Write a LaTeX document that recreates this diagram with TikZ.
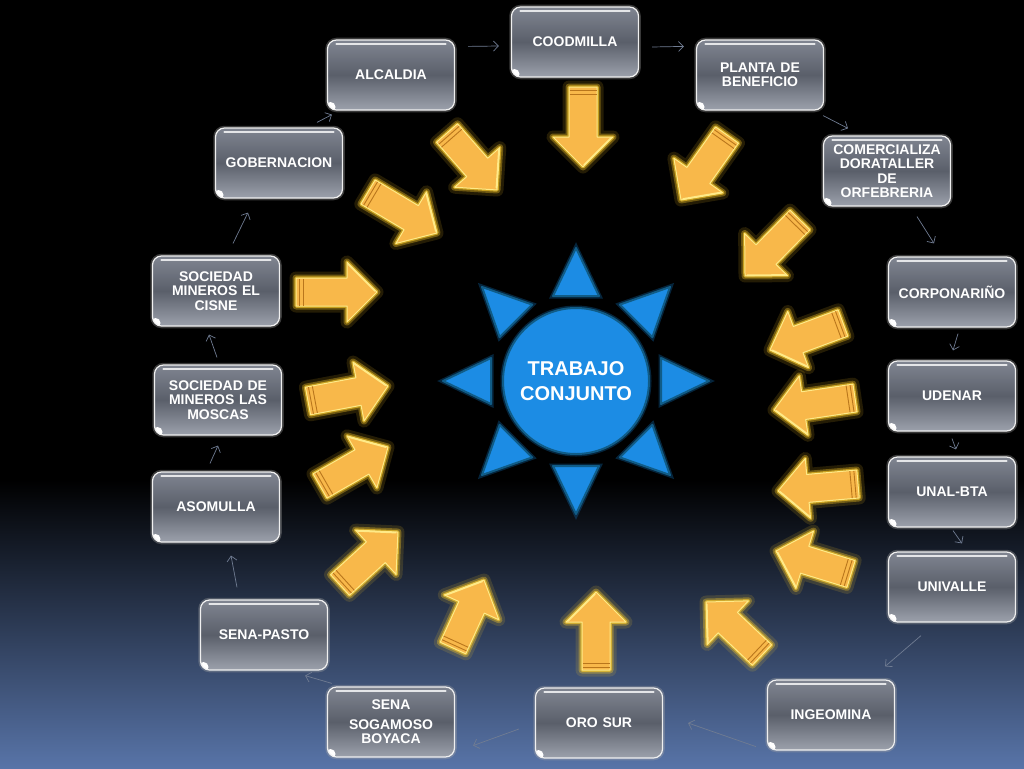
\documentclass[tikz,border=0pt]{standalone}
\usepackage{fontspec}
\setmainfont{Liberation Sans}
\usetikzlibrary{calc,arrows.meta}
\definecolor{boxtop}{RGB}{128,133,145}
\definecolor{boxmid}{RGB}{90,95,106}
\definecolor{boxbot}{RGB}{156,161,172}
\definecolor{conncol}{RGB}{112,124,146}
\definecolor{arrfill}{RGB}{248,184,74}
\definecolor{arredge}{RGB}{255,234,135}
\definecolor{arrglow}{RGB}{255,205,40}
\definecolor{arrstripe}{RGB}{185,118,28}
\definecolor{sunfill}{RGB}{28,140,228}
\definecolor{sunedge}{RGB}{16,92,135}
\definecolor{bgbot}{RGB}{88,116,168}
\tikzset{
 box/.style={rounded corners=9pt, minimum width=127pt, minimum height=70pt, inner sep=1pt,
   text width=125pt, align=center, text=white,
   font=\bfseries\fontsize{14}{14.5}\selectfont,
   top color=boxtop, bottom color=boxbot, middle color=boxmid,
   draw=white!88!gray, line width=1.2pt,
   preaction={draw=gray!70, line width=4.5pt, opacity=0.35},
   path picture={
     \draw[white, line width=2.4pt, line cap=round, opacity=0.8]
       ([xshift=9pt,yshift=-4pt]path picture bounding box.north west) --
       ([xshift=-9pt,yshift=-4pt]path picture bounding box.north east);
     \fill[white] ([xshift=3pt,yshift=3pt]path picture bounding box.south west) circle (5pt);}},
 conn/.style={draw=conncol, line width=0.7pt, -{Straight Barb[length=5pt,width=10pt]}},
 sunpart/.style={fill=sunfill, draw=sunedge, line width=2pt, line join=round},
}
\newcommand\yarrow[4]{%
 \pgfmathsetmacro\yaang{atan2((#2)-(#4),(#3)-(#1))}%
 \pgfmathsetmacro\yalen{veclen((#3)-(#1),(#4)-(#2))}%
 \begin{scope}[shift={(#1,-#2)}, rotate=\yaang]
  \draw[arrglow, line width=13pt, opacity=0.14, line join=round]
   (0,-14) -- (\yalen-30,-14) -- (\yalen-30,-30) -- (\yalen,0) -- (\yalen-30,30) -- (\yalen-30,14) -- (0,14) -- cycle;
  \draw[arrglow, line width=7pt, opacity=0.35, line join=round]
   (0,-14) -- (\yalen-30,-14) -- (\yalen-30,-30) -- (\yalen,0) -- (\yalen-30,30) -- (\yalen-30,14) -- (0,14) -- cycle;
  \draw[arrglow, line width=3.5pt, opacity=0.6, line join=round]
   (0,-14) -- (\yalen-30,-14) -- (\yalen-30,-30) -- (\yalen,0) -- (\yalen-30,30) -- (\yalen-30,14) -- (0,14) -- cycle;
  \filldraw[fill=arrfill, draw=arredge, line width=1pt, line join=round]
   (0,-14) -- (\yalen-30,-14) -- (\yalen-30,-30) -- (\yalen,0) -- (\yalen-30,30) -- (\yalen-30,14) -- (0,14) -- cycle;
  \draw[arredge, line width=1.6pt, line cap=round] (\yalen-29,28) -- (\yalen-2,1);
  \draw[arrstripe, line width=0.9pt] (3,-13.5) -- (3,13.5) (7,-13.5) -- (7,13.5);
 \end{scope}}
\begin{document}
\begin{tikzpicture}[x=1pt,y=1pt]
\useasboundingbox (0,0) rectangle (1024,-768);
\fill[black] (0,0) rectangle (1024,-480);
\shade[top color=black, bottom color=bgbot] (0,-480) rectangle (1024,-768);

% boxes
\node[box] (cood) at (575,-42) {COODMILLA};
\node[box] (alc)  at (391,-75) {ALCALDIA};
\node[box] (plan) at (760,-75) {PLANTA DE\\BENEFICIO};
\node[box] (com)  at (887,-171) {COMERCIALIZA\\DORATALLER\\DE\\ORFEBRERIA};
\node[box] (corp) at (952,-292) {CORPONARIÑO};
\node[box] (ude)  at (952,-396) {UDENAR};
\node[box] (unal) at (952,-492) {UNAL-BTA};
\node[box] (univ) at (952,-587) {UNIVALLE};
\node[box] (ing)  at (831,-715) {INGEOMINA};
\node[box] (oro)  at (599,-723) {ORO SUR};
\node[box] (sog)  at (391,-722) {SENA\\[5pt]SOGAMOSO\\BOYACA};
\node[box] (pas)  at (264,-635) {SENA-PASTO};
\node[box] (aso)  at (216,-507) {ASOMULLA};
\node[box] (mos)  at (218,-400) {SOCIEDAD DE\\MINEROS LAS\\MOSCAS};
\node[box] (cis)  at (216,-291) {SOCIEDAD\\MINEROS EL\\CISNE};
\node[box] (gob)  at (279,-163) {GOBERNACION};

% connectors
\draw[conn] ($(gob.north)+(38,5)$) -- ($(alc.south west)+(5,-4)$);
\draw[conn] ($(alc.north east)+(13,-7)$) -- ($(cood.west)+(-12,-4)$);
\draw[conn] ($(cood.east)+(13,-5)$) -- ($(plan.north west)+(-12,-7)$);
\draw[conn] ($(plan.south east)+(-1,-5)$) -- ($(com.north)+(-39,7)$);
\draw[conn] ($(com.south)+(30,-10)$) -- ($(corp.north)+(-18,13)$);
\draw[conn] ($(corp.south)+(6,-6)$) -- ($(ude.north)+(1,10)$);
\draw[conn] ($(ude.south)+(0,-7)$) -- ($(unal.north)+(4,7)$);
\draw[conn] ($(unal.south)+(1,-3)$) -- ($(univ.north)+(10,8)$);
\draw[conn] ($(univ.south)+(-31,-13)$) -- ($(ing.north east)+(-10,13)$);
\draw[conn] ($(ing.south west)+(-11,4)$) -- ($(oro.east)+(25,0)$);
\draw[conn] ($(oro.west)+(-16,-6)$) -- ($(sog.south east)+(18,12)$);
\draw[conn] ($(sog.north west)+(5,3)$) -- ($(pas.south east)+(-23,-5)$);
\draw[conn] ($(pas.north)+(-27,12)$) -- ($(aso.south)+(15,-13)$);
\draw[conn] ($(aso.north)+(-6,8)$) -- ($(mos.south)+(0,-10)$);
\draw[conn] ($(mos.north)+(-1,7)$) -- ($(cis.south)+(-7,-8)$);
\draw[conn] ($(cis.north)+(17,12)$) -- ($(gob.south)+(-31,-14)$);

% yellow block arrows (tail x,y ; tip x,y in image coordinates)
\yarrow{583}{87}{583}{167}
\yarrow{447}{133}{497}{190}
\yarrow{727}{135}{681}{200}
\yarrow{800}{220}{745}{276}
\yarrow{843}{323}{770}{350}
\yarrow{855}{398}{774}{410}
\yarrow{858}{484}{778}{491}
\yarrow{851}{574}{776}{551}
\yarrow{762}{655}{706}{602}
\yarrow{596}{670}{596}{592}
\yarrow{453}{648}{484}{580}
\yarrow{340}{585}{398}{532}
\yarrow{320}{486}{388}{447}
\yarrow{308}{401}{388}{386}
\yarrow{296}{292}{377}{292}
\yarrow{368}{192}{437}{233}

% sun
\node[circle, minimum size=146pt, sunpart, preaction={draw=cyan!60!blue, line width=5pt, opacity=0.3},
  text=white, font=\bfseries\fontsize{20}{25}\selectfont, align=center] (sun) at (576,-381) {TRABAJO\\CONJUNTO};
\foreach \a in {0,45,...,315}{
  \draw[sunpart, preaction={draw=cyan!60!blue, line width=5pt, opacity=0.3}]
    ($(sun.center)+(\a:133)$) -- ($(sun.center)+(\a:85)+(\a+90:23)$) -- ($(sun.center)+(\a:85)+(\a-90:23)$) -- cycle;
}
\end{tikzpicture}
\end{document}
